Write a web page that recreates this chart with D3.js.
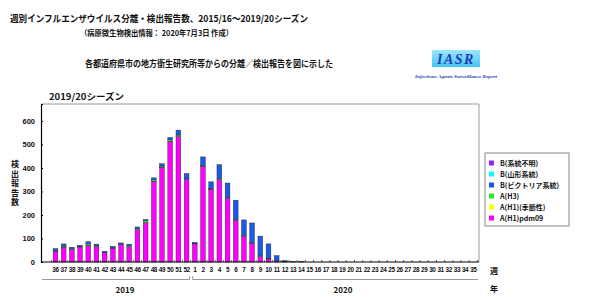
<!DOCTYPE html>
<html>
<head>
<meta charset="utf-8">
<script src="https://cdn.jsdelivr.net/npm/d3@7"></script>
<style>
body { margin: 0; background: #fff; }
text { font-family: "Noto Sans CJK JP", sans-serif; font-weight: bold; fill: #111; }
</style>
</head>
<body>
<svg id="chart" width="600" height="297"></svg>
<script>
// week labels, 2019 week 36 .. 2020 week 35
var weeks = [36,37,38,39,40,41,42,43,44,45,46,47,48,49,50,51,52,
             1,2,3,4,5,6,7,8,9,10,11,12,13,14,15,16,17,18,19,20,21,22,23,24,25,26,27,28,29,30,31,32,33,34,35];
var yearLabels = ['2019', '2020'];
var yTicks = [0,100,200,300,400,500,600];

// reports per week, one array per virus type
var pdm09 = [46,63,53,64,71,66,40,59,76,66,137,167,344,403,514,533,351,
             77,407,310,351,270,177,109,80,24,13,6,1,0,0,0,0,0,0,0,0,0,0,0,0,0,0,0,0,0,0,0,0,0,0,0];
var h1 = [0,0,0,0,0,0,0,0,0,0,0,0,0,0,0,0,0,
          0,0,0,0,0,0,0,0,0,0,0,0,0,0,0,0,0,0,0,0,0,0,0,0,0,0,0,0,0,0,0,0,0,0,0];
var h3 = [4,5,4,2,6,5,1,1,1,5,5,10,6,5,6,7,3,
          1,4,2,4,3,3,4,4,3,3,1,0,0,0,0,0,0,0,0,0,0,0,0,0,0,0,0,0,0,0,0,0,0,0,0];
var bVic = [7,9,6,5,9,5,5,7,4,5,7,4,8,10,10,21,22,
            6,36,29,59,63,83,66,82,83,61,20,5,2,3,0,0,0,0,0,0,0,0,0,0,0,0,0,0,0,0,0,0,0,0,0];
var bYam = [0,0,0,0,0,0,0,0,0,0,0,0,0,0,0,0,0,
            0,0,0,0,0,0,0,0,0,0,0,0,0,0,0,0,0,0,0,0,0,0,0,0,0,0,0,0,0,0,0,0,0,0,0];
var bUnk = [0,0,0,0,0,0,0,0,0,0,0,0,0,0,0,0,0,
            0,0,0,0,0,0,0,0,0,0,0,0,0,0,0,0,0,0,0,0,0,0,0,0,0,0,0,0,0,0,0,0,0,0,0];

var seriesNames = ['A(H1)pdm09', 'A(H1)(季節性)', 'A(H3)', 'B(ビクトリア系統)', 'B(山形系統)', 'B(系統不明)'];
var seriesValues = [pdm09, h1, h3, bVic, bYam, bUnk];
var seriesColors = ['#ff00ff', '#ffff00', '#22ee22', '#1a5ae6', '#00ffff', '#9922ee'];

var svg = d3.select('#chart');

// titles
svg.append('text').attr('x', 10).attr('y', 22).attr('font-size', 9.5)
    .attr('textLength', 298).attr('lengthAdjust', 'spacingAndGlyphs')
    .text('週別インフルエンザウイルス分離・検出報告数、2015/16～2019/20シーズン');
svg.append('text').attr('x', 80).attr('y', 36).attr('font-size', 7.5)
    .attr('textLength', 153).attr('lengthAdjust', 'spacingAndGlyphs')
    .text('（病原微生物検出情報： 2020年7月3日 作成）');
svg.append('text').attr('x', 85).attr('y', 66.5).attr('font-size', 9)
    .attr('textLength', 248).attr('lengthAdjust', 'spacingAndGlyphs')
    .text('各都道府県市の地方衛生研究所等からの分離／検出報告を図に示した');

// IASR logo
var grad = svg.append('defs').append('linearGradient').attr('id', 'logoGrad')
    .attr('x1', 0).attr('y1', 0).attr('x2', 0).attr('y2', 1);
grad.append('stop').attr('offset', 0).attr('stop-color', '#9fe6ff');
grad.append('stop').attr('offset', 1).attr('stop-color', '#44c4f4');
svg.append('rect').attr('x', 432).attr('y', 50).attr('width', 48).attr('height', 17)
    .attr('fill', 'url(#logoGrad)');
svg.append('text').attr('x', 456).attr('y', 64).attr('text-anchor', 'middle')
    .attr('font-size', 14).attr('font-style', 'italic')
    .style('font-family', '"Liberation Serif", serif').style('fill', '#1a3fb0')
    .attr('letter-spacing', 1.5).text('IASR');
svg.append('text').attr('x', 415).attr('y', 78).attr('font-size', 4.5).attr('font-style', 'italic')
    .attr('textLength', 82).attr('lengthAdjust', 'spacingAndGlyphs')
    .style('font-family', '"Liberation Serif", serif').style('fill', '#1a3fb0')
    .text('Infectious Agents Surveillance Report');

svg.append('text').attr('x', 49).attr('y', 99.5).attr('font-size', 9)
    .attr('textLength', 75).attr('lengthAdjust', 'spacingAndGlyphs')
    .text('2019/20シーズン');

// plot area
var plotLeft = 41, plotRight = 479, plotTop = 104, plotBottom = 262;
var bandStart = 51.4, bandEnd = 477.4;

var x = d3.scaleBand().domain(d3.range(weeks.length)).range([bandStart, bandEnd]).paddingInner(0.42).paddingOuter(0.21);
var y = d3.scaleLinear().domain([0, 672]).range([plotBottom, plotTop]);

// frame
svg.append('path').attr('d', 'M' + plotLeft + ',' + plotTop + 'H' + plotRight + 'V' + plotBottom)
    .attr('fill', 'none').attr('stroke', '#999').attr('stroke-width', 1);

// stacked bars
var rows = weeks.map(function (w, i) {
    var r = { i: i };
    seriesNames.forEach(function (n, k) { r[n] = seriesValues[k][i]; });
    return r;
});
var stack = d3.stack().keys(seriesNames)(rows);

svg.append('g').selectAll('g').data(stack).join('g')
    .attr('fill', function (d, k) { return seriesColors[k]; })
    .selectAll('rect').data(function (d) { return d.filter(function (p) { return p[1] > p[0]; }); })
    .join('rect')
    .attr('x', function (p) { return x(p.data.i); })
    .attr('width', x.bandwidth())
    .attr('y', function (p) { return y(p[1]); })
    .attr('height', function (p) { return y(p[0]) - y(p[1]); })
    .attr('stroke', '#222').attr('stroke-width', 0.4);

// y axis
var yAxis = svg.append('g').attr('transform', 'translate(' + plotLeft + ',0)')
    .call(d3.axisLeft(y).tickValues(yTicks).tickSize(-2).tickPadding(6).tickFormat(d3.format('d')));
yAxis.select('.domain').attr('stroke', '#000').attr('stroke-width', 1.2);
yAxis.selectAll('.tick line').attr('stroke', '#000');
yAxis.selectAll('text').attr('font-size', 7.5).style('font-family', '"Liberation Sans", sans-serif');

// x axis
var xAxis = svg.append('g').attr('transform', 'translate(0,' + plotBottom + ')')
    .call(d3.axisBottom(x).tickSize(0).tickPadding(5).tickFormat(function (i) { return weeks[i]; }));
xAxis.select('.domain').remove();
xAxis.selectAll('text').attr('font-size', 6.4).attr('letter-spacing', -0.4)
    .style('font-family', '"Liberation Sans Narrow", "Liberation Sans", sans-serif');
svg.append('line').attr('x1', plotLeft).attr('x2', plotRight).attr('y1', plotBottom).attr('y2', plotBottom)
    .attr('stroke', '#000').attr('stroke-width', 1.2);
svg.append('g').selectAll('line').data(d3.range(weeks.length + 1)).join('line')
    .attr('x1', function (i) { return bandStart + i * x.step(); })
    .attr('x2', function (i) { return bandStart + i * x.step(); })
    .attr('y1', plotBottom).attr('y2', plotBottom - 2)
    .attr('stroke', '#000').attr('stroke-width', 0.6);

// y title, vertical characters
svg.append('g').selectAll('text').data('検出報告数'.split('')).join('text')
    .attr('x', 15).attr('y', function (c, i) { return 167 + i * 9.6; })
    .attr('text-anchor', 'middle').attr('font-size', 8).text(function (c) { return c; });

// year brackets
var split = bandStart + 17 * x.step();
svg.append('path').attr('d', 'M42,279.5H' + (split - 1) + 'V276')
    .attr('fill', 'none').attr('stroke', '#999');
svg.append('path').attr('d', 'M' + (split + 2) + ',276V279.5H478')
    .attr('fill', 'none').attr('stroke', '#999');
svg.append('text').attr('x', 125).attr('y', 292.5).attr('text-anchor', 'middle').attr('font-size', 8)
    .text(yearLabels[0]);
svg.append('text').attr('x', 343).attr('y', 292.5).attr('text-anchor', 'middle').attr('font-size', 8)
    .text(yearLabels[1]);
svg.append('text').attr('x', 494).attr('y', 273.5).attr('text-anchor', 'middle').attr('font-size', 8).text('週');
svg.append('text').attr('x', 494).attr('y', 291.5).attr('text-anchor', 'middle').attr('font-size', 8).text('年');

// legend
svg.append('rect').attr('x', 485).attr('y', 153).attr('width', 84).attr('height', 73)
    .attr('fill', '#fff').attr('stroke', '#888');
var legendOrder = seriesNames.map(function (n, k) { return k; }).reverse();
var leg = svg.append('g').selectAll('g').data(legendOrder).join('g')
    .attr('transform', function (k, j) { return 'translate(489,' + (163 + j * 11) + ')'; });
leg.append('rect').attr('x', 0).attr('y', -2.5).attr('width', 5).attr('height', 5)
    .attr('fill', function (k) { return seriesColors[k]; });
leg.append('text').attr('x', 11).attr('y', 2.6).attr('font-size', 7)
    .text(function (k) { return seriesNames[k]; });
</script>
</body>
</html>
